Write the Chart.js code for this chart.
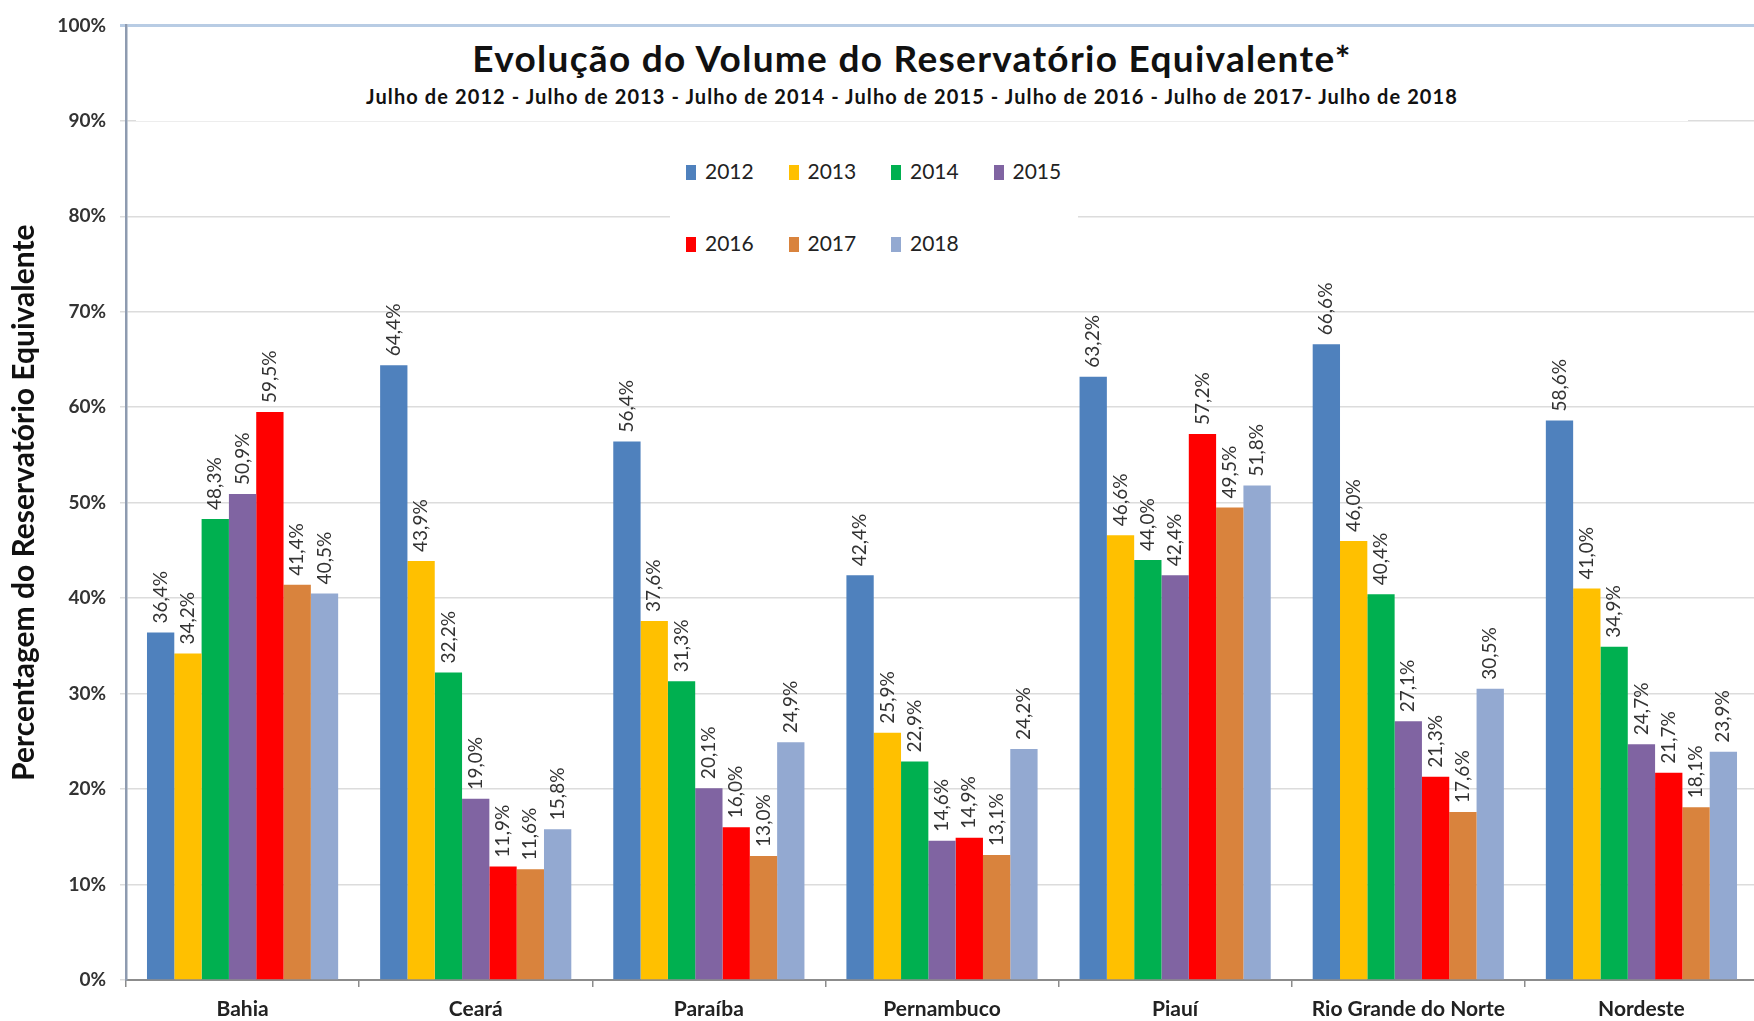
<!DOCTYPE html>
<html>
<head>
<meta charset="utf-8">
<script src="https://cdn.jsdelivr.net/npm/chart.js@4.4.1/dist/chart.umd.min.js"></script>
<style>
  body { margin: 0; background: #fff; overflow: hidden; }
  #wrap { position: relative; width: 1758px; height: 1021px; }
  #chart { position: absolute; left: 0; top: 0; }
  .box { position: absolute; background: #fff; font-family: Lato, sans-serif; color: #111; }
  #head { left: 136px; top: 27px; width: 1552px; height: 94px; text-align: center; }
  #head .t { font-weight: bold; font-size: 37px; line-height: 42px; margin-top: 10px; letter-spacing: 1.3px; }
  #head .s { font-weight: bold; font-size: 20px; line-height: 24px; margin-top: 5px; letter-spacing: 1.1px; }
  #legend { left: 670px; top: 140px; width: 408px; height: 134px; }
  .item { position: absolute; font-size: 21px; line-height: 24px; color: #222; }
  .item i { display: inline-block; width: 10px; height: 15px; margin-right: 9px; vertical-align: -1px; }
</style>
</head>
<body>
<div id="wrap">
  <canvas id="chart" width="1758" height="1021"></canvas>
  <div class="box" id="head">
    <div class="t">Evolução do Volume do Reservatório Equivalente*</div>
    <div class="s">Julho de 2012 - Julho de 2013 - Julho de 2014 - Julho de 2015 - Julho de 2016 - Julho de 2017- Julho de 2018</div>
  </div>
  <div class="box" id="legend"></div>
</div>
<script>
const categories = ["Bahia", "Ceará", "Paraíba", "Pernambuco", "Piauí", "Rio Grande do Norte", "Nordeste"];
const years = ["2012", "2013", "2014", "2015", "2016", "2017", "2018"];
const colors = ["#4f81bd", "#ffc000", "#00b050", "#8064a2", "#ff0000", "#d9833d", "#93a9d1"];

const v2012 = [36.4, 64.4, 56.4, 42.4, 63.2, 66.6, 58.6];
const v2013 = [34.2, 43.9, 37.6, 25.9, 46.6, 46.0, 41.0];
const v2014 = [48.3, 32.2, 31.3, 22.9, 44.0, 40.4, 34.9];
const v2015 = [50.9, 19.0, 20.1, 14.6, 42.4, 27.1, 24.7];
const v2016 = [59.5, 11.9, 16.0, 14.9, 57.2, 21.3, 21.7];
const v2017 = [41.4, 11.6, 13.0, 13.1, 49.5, 17.6, 18.1];
const v2018 = [40.5, 15.8, 24.9, 24.2, 51.8, 30.5, 23.9];
const series = [v2012, v2013, v2014, v2015, v2016, v2017, v2018];

Chart.defaults.font.family = "Lato, sans-serif";
Chart.defaults.color = "#222";

// legend in two rows, like the original
const legend = document.getElementById("legend");
years.forEach((y, i) => {
  const el = document.createElement("div");
  el.className = "item";
  el.style.left = (16 + (i % 4) * 102.5) + "px";
  el.style.top = (i < 4 ? 19 : 91) + "px";
  el.innerHTML = `<i style="background:${colors[i]}"></i>${y}`;
  legend.appendChild(el);
});

const barLabels = {
  id: "barLabels",
  afterDatasetsDraw(chart) {
    const ctx = chart.ctx;
    ctx.save();
    ctx.font = "19px Lato, sans-serif";
    ctx.fillStyle = "#333";
    ctx.textAlign = "left";
    ctx.textBaseline = "middle";
    chart.data.datasets.forEach((ds, i) => {
      chart.getDatasetMeta(i).data.forEach((bar, j) => {
        ctx.save();
        ctx.translate(bar.x, bar.y - 9);
        ctx.rotate(-Math.PI / 2);
        ctx.fillText(ds.data[j].toFixed(1).replace(".", ",") + "%", 0, 0);
        ctx.restore();
      });
    });
    ctx.restore();
  }
};

new Chart(document.getElementById("chart"), {
  type: "bar",
  data: {
    labels: categories,
    datasets: years.map((y, i) => ({
      label: y,
      data: series[i],
      backgroundColor: colors[i],
      categoryPercentage: 0.82,
      barPercentage: 1.0,
    })),
  },
  options: {
    responsive: false,
    animation: false,
    layout: { padding: { top: 20, right: 0, left: 0, bottom: 0 } },
    plugins: { legend: { display: false }, tooltip: { enabled: false } },
    scales: {
      x: {
        grid: { offset: true, drawOnChartArea: false, tickLength: 7, color: "#8c8c8c", lineWidth: 1.5 },
        border: { color: "#8c8c8c", width: 2 },
        ticks: { font: { size: 21, weight: "bold" }, color: "#222", padding: 10 },
        afterFit: (s) => { s.height = 41; },
      },
      y: {
        min: 0,
        max: 100,
        ticks: {
          stepSize: 10,
          padding: 14,
          font: { size: 19, weight: "bold" },
          color: "#333",
          callback: (v) => v + "%",
        },
        grid: {
          tickLength: 6,
          color: (c) => (c.tick && c.tick.value === 100 ? "#b8cce4" : "#dcdcdc"),
          lineWidth: (c) => (c.tick && c.tick.value === 100 ? 3 : 1.5),
        },
        border: { color: "#8e9bb0", width: 2.5 },
        title: {
          display: true,
          text: "Percentagem do Reservatório Equivalente",
          font: { size: 30, weight: "bold" },
          color: "#111",
          padding: { top: 6, bottom: 0 },
        },
        afterFit: (s) => { s.width = 126; },
      },
    },
  },
  plugins: [barLabels],
});
</script>
</body>
</html>
